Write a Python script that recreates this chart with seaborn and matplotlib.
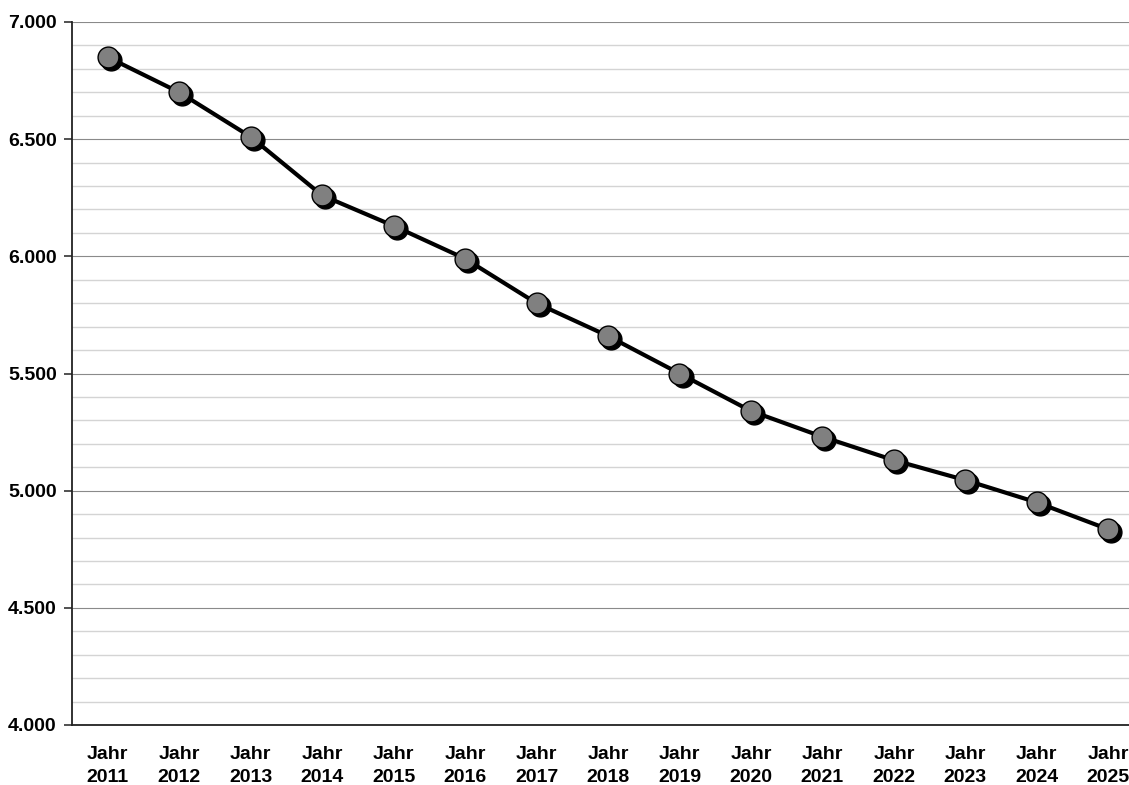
import numpy as np
import pandas as pd
import matplotlib
matplotlib.use("Agg")
import matplotlib.pyplot as plt
import matplotlib.transforms as mtransforms
from matplotlib.ticker import MultipleLocator, FuncFormatter
import seaborn as sns

# data
years = ["2011", "2012", "2013", "2014", "2015", "2016", "2017", "2018",
         "2019", "2020", "2021", "2022", "2023", "2024", "2025"]
labels = ["Jahr\n" + y for y in years]
values = [6850, 6700, 6510, 6260, 6130, 5990, 5800, 5660,
          5500, 5340, 5230, 5130, 5045, 4950, 4835]

df = pd.DataFrame({"label": labels, "value": values})
pos = np.arange(len(df))
df["pos"] = pos

sns.set_theme(style="white")
plt.rcParams["font.family"] = ["Liberation Sans", "DejaVu Sans"]

fig = plt.figure(figsize=(11.29, 7.85), dpi=100)
ax = fig.add_axes([72 / 1129, 60 / 785, 1072 / 1129, 703 / 785])

# line
sns.lineplot(data=df, x="pos", y="value", color="black", linewidth=3.0,
             ax=ax, zorder=3, legend=False)
# marker shadow
shadow = ax.transData + mtransforms.ScaledTranslation(2.2 / 72, -2.2 / 72, fig.dpi_scale_trans)
ax.plot(df["pos"], df["value"], "o", color="black", markersize=15,
        transform=shadow, zorder=4)
# markers
sns.scatterplot(data=df, x="pos", y="value", color="#808080", edgecolor="black",
                linewidth=1.0, s=225, ax=ax, zorder=5, legend=False)

ax.set_xlim(-0.5, len(df) - 0.5)
ax.set_ylim(4000, 7000)

ax.yaxis.set_major_locator(MultipleLocator(500))
ax.yaxis.set_minor_locator(MultipleLocator(100))
ax.yaxis.set_major_formatter(FuncFormatter(lambda v, p: f"{int(v):,}".replace(",", ".")))
ax.grid(which="major", axis="y", color="#8a8a8a", linewidth=0.8)
ax.grid(which="minor", axis="y", color="#d4d4d4", linewidth=1.0)
ax.grid(False, axis="x")
ax.set_axisbelow(True)

ax.set_xticks(pos)
ax.set_xticklabels(df["label"], fontweight="bold", fontsize=14, linespacing=1.45, color="black")
ax.set_xticks(np.arange(-0.5, len(df)), minor=True)
ax.tick_params(axis="x", which="major", length=0, pad=15)
ax.tick_params(axis="x", which="minor", length=6, width=1.2, color="#333333", direction="out")
ax.tick_params(axis="y", which="major", length=6, width=1.2, color="#333333",
               direction="out", left=True, labelsize=14, labelcolor="black", pad=5)
ax.tick_params(axis="y", which="minor", length=0)
for t in ax.get_yticklabels():
    t.set_fontweight("bold")

for s in ["top", "right"]:
    ax.spines[s].set_visible(False)
for s in ["left", "bottom"]:
    ax.spines[s].set_color("#222222")
    ax.spines[s].set_linewidth(1.3)

ax.set_xlabel("")
ax.set_ylabel("")

fig.savefig("out.png", dpi=100)
